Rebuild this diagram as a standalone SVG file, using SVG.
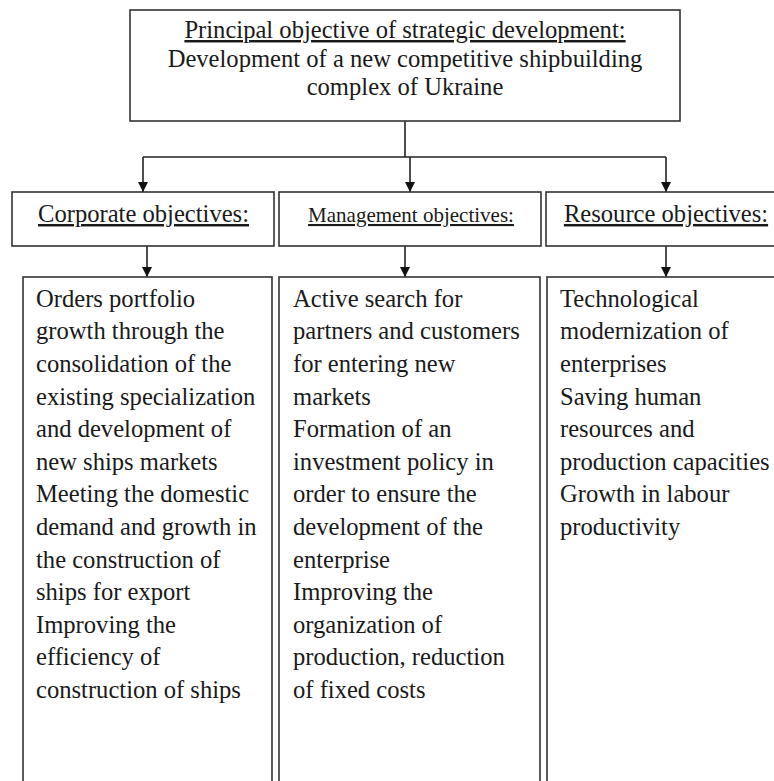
<svg xmlns="http://www.w3.org/2000/svg" width="774" height="781" viewBox="0 0 774 781">
<style>
.box{fill:#fff;stroke:#333;stroke-width:1.6}
.con{fill:none;stroke:#222;stroke-width:1.6}
text{font-family:"Liberation Serif","Times New Roman",serif;fill:#1a1a1a}
.t{font-size:24.6px}
.m{font-size:21px}
.c{text-anchor:middle}
.u{text-decoration:underline}
</style>
<defs>
<marker id="ah" viewBox="0 0 10 10" refX="10" refY="5" markerWidth="10" markerHeight="10" markerUnits="userSpaceOnUse" orient="auto">
<path d="M0,0 L10,5 L0,10 Z" fill="#111"/>
</marker>
</defs>
<rect width="774" height="781" fill="#fff"/>
<g id="connectors">
<path class="con" d="M405,121 V157"/>
<path class="con" d="M143,157 H666"/>
<path class="con" d="M143,157 V192" marker-end="url(#ah)"/>
<path class="con" d="M410,157 V192" marker-end="url(#ah)"/>
<path class="con" d="M666,157 V192" marker-end="url(#ah)"/>
<path class="con" d="M147,246 V277" marker-end="url(#ah)"/>
<path class="con" d="M405,246 V277" marker-end="url(#ah)"/>
<path class="con" d="M666,246 V277" marker-end="url(#ah)"/>
</g>
<g id="principal">
<rect class="box" x="130" y="10" width="550" height="111"/>
<text class="t c u" x="405" y="38">Principal objective of strategic development:</text>
<text class="t c" x="405" y="66.5">Development of a new competitive shipbuilding</text>
<text class="t c" x="405" y="95">complex of Ukraine</text>
</g>
<g id="corporate">
<rect class="box" x="12" y="192" width="262" height="54"/>
<text class="t c u" x="143.5" y="222">Corporate objectives:</text>
</g>
<g id="management">
<rect class="box" x="279" y="192" width="262" height="54"/>
<text class="m c u" x="411" y="222">Management objectives:</text>
</g>
<g id="resource">
<rect class="box" x="546" y="192" width="240" height="54"/>
<text class="t c u" x="666" y="222">Resource objectives:</text>
</g>
<g id="corporate-list">
<rect class="box" x="23" y="277" width="249" height="520"/>
<text class="t" x="36" y="306.7">
<tspan x="36" dy="0">Orders portfolio</tspan>
<tspan x="36" dy="32.6">growth through the</tspan>
<tspan x="36" dy="32.6">consolidation of the</tspan>
<tspan x="36" dy="32.6">existing specialization</tspan>
<tspan x="36" dy="32.6">and development of</tspan>
<tspan x="36" dy="32.6">new ships markets</tspan>
<tspan x="36" dy="32.6">Meeting the domestic</tspan>
<tspan x="36" dy="32.6">demand and growth in</tspan>
<tspan x="36" dy="32.6">the construction of</tspan>
<tspan x="36" dy="32.6">ships for export</tspan>
<tspan x="36" dy="32.6">Improving the</tspan>
<tspan x="36" dy="32.6">efficiency of</tspan>
<tspan x="36" dy="32.6">construction of ships</tspan>
</text>
</g>
<g id="management-list">
<rect class="box" x="279" y="277" width="261" height="520"/>
<text class="t" x="293" y="306.7">
<tspan x="293" dy="0">Active search for</tspan>
<tspan x="293" dy="32.6">partners and customers</tspan>
<tspan x="293" dy="32.6">for entering new</tspan>
<tspan x="293" dy="32.6">markets</tspan>
<tspan x="293" dy="32.6">Formation of an</tspan>
<tspan x="293" dy="32.6">investment policy in</tspan>
<tspan x="293" dy="32.6">order to ensure the</tspan>
<tspan x="293" dy="32.6">development of the</tspan>
<tspan x="293" dy="32.6">enterprise</tspan>
<tspan x="293" dy="32.6">Improving the</tspan>
<tspan x="293" dy="32.6">organization of</tspan>
<tspan x="293" dy="32.6">production, reduction</tspan>
<tspan x="293" dy="32.6">of fixed costs</tspan>
</text>
</g>
<g id="resource-list">
<rect class="box" x="547" y="277" width="240" height="520"/>
<text class="t" x="560" y="306.7">
<tspan x="560" dy="0">Technological</tspan>
<tspan x="560" dy="32.6">modernization of</tspan>
<tspan x="560" dy="32.6">enterprises</tspan>
<tspan x="560" dy="32.6">Saving human</tspan>
<tspan x="560" dy="32.6">resources and</tspan>
<tspan x="560" dy="32.6">production capacities</tspan>
<tspan x="560" dy="32.6">Growth in labour</tspan>
<tspan x="560" dy="32.6">productivity</tspan>
</text>
</g>
</svg>
